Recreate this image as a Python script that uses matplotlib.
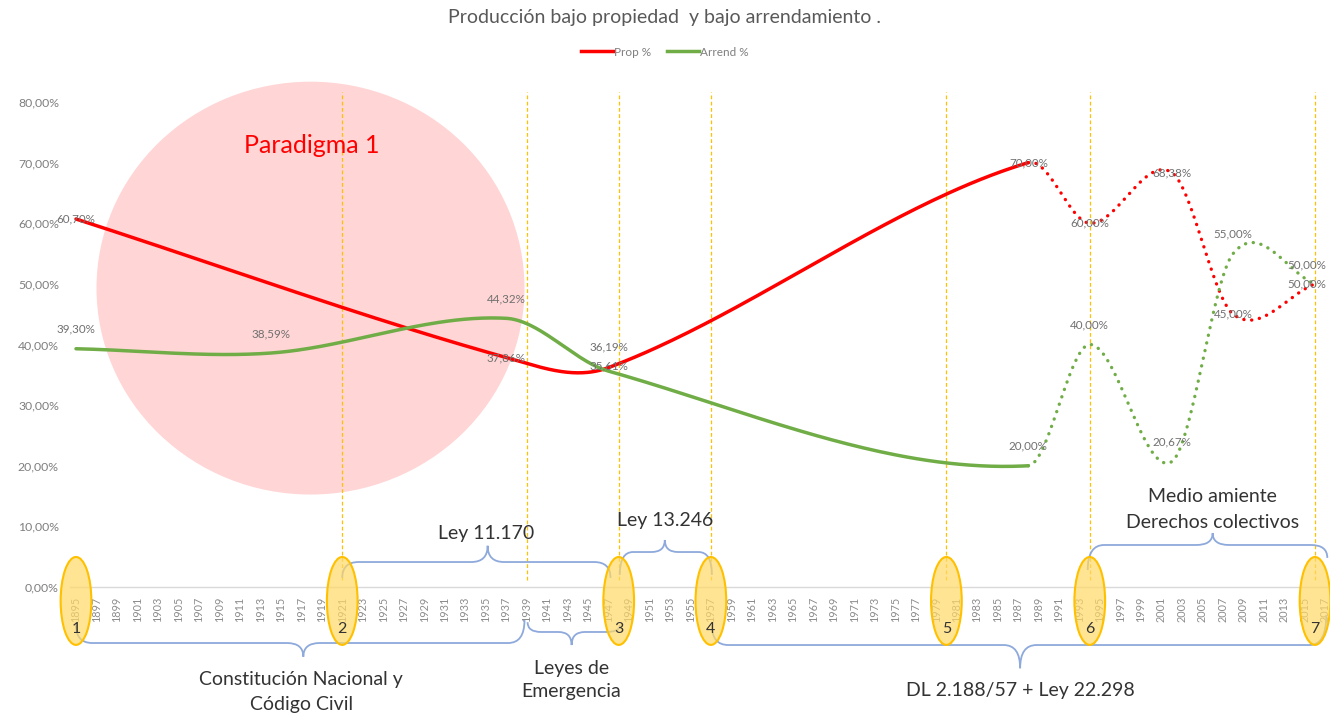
import numpy as np
import matplotlib
matplotlib.use("Agg")
import matplotlib.pyplot as plt
from matplotlib.patches import Ellipse, PathPatch
from matplotlib.path import Path
from matplotlib.lines import Line2D

plt.rcParams['font.family'] = ['Lato', 'DejaVu Sans']

# ---------------- data ----------------
title = "Producción bajo propiedad  y bajo arrendamiento ."
prop_years = [1895, 1937, 1947, 1988, 1994, 2002, 2008, 2016]
prop_vals = [60.70, 37.86, 36.19, 70.00, 60.00, 68.38, 45.00, 50.00]
arr_years = [1895, 1914, 1937, 1947, 1988, 1994, 2002, 2008, 2016]
arr_vals = [39.30, 38.59, 44.32, 35.61, 20.00, 40.00, 20.67, 55.00, 50.00]
dotted_from = 1988
tick_years = list(range(1895, 2018, 2))
y_ticks = [0, 10, 20, 30, 40, 50, 60, 70, 80]
event_years = [1895, 1921, 1948, 1957, 1980, 1994, 2016]
event_numbers = ["1", "2", "3", "4", "5", "6", "7"]
guide_years = [1921, 1939, 1948, 1957, 1980, 1994, 2016]

RED = "#FF0000"
GREEN = "#70AD47"
LABEL_C = "#707070"
BRACE_C = "#8EA9DB"
TEXT_C = "#333333"


def fmt(v):
    return f"{v:.2f}%".replace(".", ",")


def smooth_segments(xs, ys, n=80):
    xs = np.asarray(xs, float)
    ys = np.asarray(ys, float)
    m = np.zeros(len(xs))
    for i in range(len(xs)):
        if i == 0:
            m[i] = (ys[1] - ys[0]) / (xs[1] - xs[0])
        elif i == len(xs) - 1:
            m[i] = (ys[-1] - ys[-2]) / (xs[-1] - xs[-2])
        else:
            m[i] = (ys[i + 1] - ys[i - 1]) / (xs[i + 1] - xs[i - 1])
    segs = []
    for i in range(len(xs) - 1):
        h = xs[i + 1] - xs[i]
        t = np.linspace(0, 1, n)
        h00 = 2 * t**3 - 3 * t**2 + 1
        h10 = t**3 - 2 * t**2 + t
        h01 = -2 * t**3 + 3 * t**2
        h11 = t**3 - t**2
        yy = h00 * ys[i] + h10 * h * m[i] + h01 * ys[i + 1] + h11 * h * m[i + 1]
        xx = xs[i] + t * h
        segs.append((xx, yy, xs[i + 1] <= dotted_from))
    return segs


def join(segs, solid):
    xs, ys = [], []
    for xx, yy, s in segs:
        if s == solid:
            xs.append(xx)
            ys.append(yy)
    return np.concatenate(xs), np.concatenate(ys)


# ---------------- figure ----------------
W, H = 1330, 715
fig = plt.figure(figsize=(W / 100, H / 100), dpi=100)
ax = fig.add_axes([70 / W, (H - 587) / H, 1260 / W, 485 / H])
ax.set_xlim(1895 - 6 / 10.24, 1895 + (1330 - 76) / 10.24)
ax.set_ylim(0, 80)

for s in ["top", "right", "left"]:
    ax.spines[s].set_visible(False)
ax.spines["bottom"].set_color("#D9D9D9")
ax.spines["bottom"].set_linewidth(1.0)

ax.set_xticks(tick_years)
ax.set_xticklabels([str(y) for y in tick_years], rotation=90, fontsize=7.8,
                   color="#8C8C8C")
ax.set_yticks(y_ticks)
ax.set_yticklabels([fmt(v) for v in y_ticks], fontsize=8.8, color="#7F7F7F")
ax.tick_params(axis="both", length=0)
ax.tick_params(axis="x", pad=7)
ax.tick_params(axis="y", pad=8)

# pink circle
circ = Ellipse((1917.9, 49.3), 41.8, 68.1, facecolor="#FFD5D5", edgecolor="none",
               zorder=0.5, clip_on=False)
ax.add_patch(circ)
ax.text(1918.0, 72.9, "Paradigma 1", color=RED, fontsize=18, ha="center",
        va="center", zorder=6)

# guide lines
for gy in guide_years:
    ax.plot([gy, gy], [1.2, 81.6], color="#FFC000", lw=0.9, ls=(0, (3, 2)),
            zorder=1, clip_on=False)

# lines
for yrs, vals, col in [(prop_years, prop_vals, RED), (arr_years, arr_vals, GREEN)]:
    segs = smooth_segments(yrs, vals)
    sx, sy = join(segs, True)
    dx, dy = join(segs, False)
    ax.plot(sx, sy, color=col, lw=2.5, solid_capstyle="round", zorder=3)
    ax.plot(dx, dy, color=col, lw=2.4, ls=(0, (0.05, 2.3)),
            dash_capstyle="round", zorder=3)

# data labels
last_year = max(tick_years)
for x, v in zip(prop_years, prop_vals):
    off = 15 if x == 1947 else 0
    dx_off = -6 if x >= last_year - 2 else 0
    ax.annotate(fmt(v), (x, v), xytext=(dx_off, off), textcoords="offset points",
                ha="center", va="center", fontsize=8.4, color=LABEL_C, zorder=7)
for x, v in zip(arr_years, arr_vals):
    off = 4 if x == 1947 else 14
    dx_off = -6 if x >= last_year - 2 else 0
    ax.annotate(fmt(v), (x, v), xytext=(dx_off, off), textcoords="offset points",
                ha="center", va="center", fontsize=8.4, color=LABEL_C, zorder=7)

# ellipses with numbers
for ey, num in zip(event_years, event_numbers):
    e = Ellipse((ey, -2.3), 3.0, 14.5, facecolor="#FFD966", alpha=0.7,
                edgecolor="none", zorder=4, clip_on=False)
    ax.add_patch(e)
    e2 = Ellipse((ey, -2.3), 3.0, 14.5, facecolor="none", edgecolor="#FFC000",
                 lw=1.5, zorder=4.1, clip_on=False)
    ax.add_patch(e2)
    ax.text(ey, -6.9, num, ha="center", va="center", fontsize=11.5, color=TEXT_C,
            zorder=5, clip_on=False)


def brace(x0, x1, xm, ybar, yend0, yend1, ytip, r=1.6):
    verts = [(x0, yend0), (x0, ybar), (x0 + r, ybar),
             (xm - r, ybar), (xm, ybar), (xm, ytip),
             (xm, ybar), (xm + r, ybar),
             (x1 - r, ybar), (x1, ybar), (x1, yend1)]
    codes = [Path.MOVETO, Path.CURVE3, Path.CURVE3,
             Path.LINETO, Path.CURVE3, Path.CURVE3,
             Path.CURVE3, Path.CURVE3,
             Path.LINETO, Path.CURVE3, Path.CURVE3]
    p = PathPatch(Path(verts, codes), facecolor="none", edgecolor=BRACE_C,
                  lw=1.3, zorder=3.5, clip_on=False)
    ax.add_patch(p)


# top braces
brace(1921.0, 1947.2, 1935.2, 4.12, 1.5, 1.5, 6.8)
brace(1948.1, 1957.1, 1952.5, 5.77, 2.0, 2.0, 7.75, r=1.3)
brace(1993.8, 2017.2, 2006.0, 6.93, 2.8, 4.8, 8.9)
# bottom braces
brace(1895.0, 1938.8, 1917.2, -9.24, -6.27, -5.44, -11.5)
brace(1939.1, 1948.1, 1943.4, -7.42, -5.8, -6.3, -9.57, r=1.3)
brace(1957.1, 2017.1, 1987.2, -9.57, -6.27, -4.6, -13.4)

txt_kw = dict(ha="center", va="center", fontsize=14, color=TEXT_C, zorder=6,
              clip_on=False)
ax.text(1935.1, 8.9, "Ley 11.170", **txt_kw)
ax.text(1952.5, 10.9, "Ley 13.246", **txt_kw)
ax.text(2006.0, 14.85, "Medio amiente", **txt_kw)
ax.text(2006.0, 10.56, "Derechos colectivos", **txt_kw)
ax.text(1917.0, -15.2, "Constitución Nacional y", **txt_kw)
ax.text(1917.0, -19.3, "Código Civil", **txt_kw)
ax.text(1943.4, -13.4, "Leyes de", **txt_kw)
ax.text(1943.4, -17.3, "Emergencia", **txt_kw)
ax.text(1987.2, -17.0, "DL 2.188/57 + Ley 22.298", **txt_kw)

# title and legend
fig.text(0.5, 1 - 17 / H, title, ha="center", va="center", fontsize=14,
         color="#595959")
handles = [Line2D([], [], color=RED, lw=2.5), Line2D([], [], color=GREEN, lw=2.5)]
fig.legend(handles, ["Prop %", "Arrend %"], loc="center", bbox_to_anchor=(0.5, 1 - 52 / H),
           ncol=2, frameon=False, fontsize=8.5, handlelength=2.7, handletextpad=0.1,
           columnspacing=1.3, labelcolor="#7F7F7F")

fig.savefig("out.png", dpi=100)
